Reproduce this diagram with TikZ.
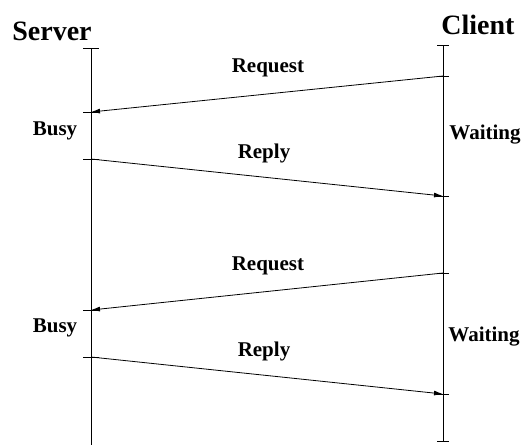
\documentclass[tikz,border=0pt]{standalone}
\usepackage{fontspec}
\setmainfont{Liberation Serif}
\usetikzlibrary{positioning, arrows.meta}
\tikzset{
head/.style={font=\fontsize{28}{30}\selectfont\bfseries},
msg/.style={font=\fontsize{21}{24}\selectfont\bfseries},
signal/.style={-{Latex[length=9pt,width=5pt]}, line width=0.8pt},
lifeline/.style={line width=0.8pt},
}
\begin{document}
\begin{tikzpicture}[x=1pt,y=-1pt]
    \useasboundingbox (0,0) rectangle (525,445);

    %headings
    \node[head, anchor=base] (server) at (52,40) {Server};
    \node[head, anchor=base] (client) at (478,34) {Client};

    %events on server line
    \coordinate (s0) at (91,48);
    \coordinate (s1) at (91,112);
    \coordinate (s2) at (91,159);
    \coordinate (s3) at (91,310);
    \coordinate (s4) at (91,357);
    \coordinate (s5) at (91,445);

    %events on client line
    \coordinate (c0) at (443,45);
    \coordinate (c1) at (443,76);
    \coordinate (c2) at (443,196);
    \coordinate (c3) at (443,273);
    \coordinate (c4) at (443,394);
    \coordinate (c5) at (443,441);

    % vertical lines
    \draw[lifeline] (s0)--(s5);
    \draw[lifeline] (c0)--(c5);

    % ticks
    \foreach \t in {s0,s1,s2,s3,s4}
        \draw[lifeline] ([xshift=-8pt]\t)--([xshift=8pt]\t);
    \foreach \t in {c0,c1,c2,c3,c4,c5}
        \draw[lifeline] ([xshift=-6pt]\t)--([xshift=6pt]\t);

    %messages
    \draw[signal] (c1)--(s1);
    \draw[signal] (s2)--(c2);
    \draw[signal] (c3)--(s3);
    \draw[signal] (s4)--(c4);

    %labels
    \node[msg] (req1)  at (268,68)  {Request};
    \node[msg] (rep1)  at (264,153) {Reply};
    \node[msg] (req2)  at (268,266) {Request};
    \node[msg] (rep2)  at (264,351) {Reply};
    \node[msg] (busy1) at (55,131)  {Busy};
    \node[msg] (busy2) at (55,328)  {Busy};
    \node[msg] (wait1) at (485,135) {Waiting};
    \node[msg] (wait2) at (484,337) {Waiting};

\end{tikzpicture}
\end{document}
